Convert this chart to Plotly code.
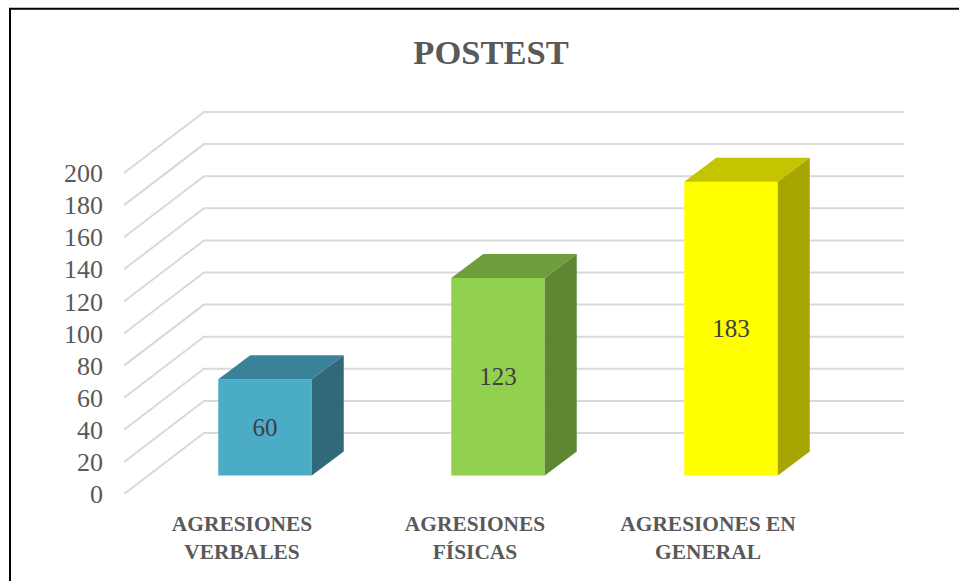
import plotly.graph_objects as go

# --- data ---
categories = ["AGRESIONES<br>VERBALES", "AGRESIONES<br>FÍSICAS", "AGRESIONES EN<br>GENERAL"]
values = [60, 123, 183]
y_ticks = [0, 20, 40, 60, 80, 100, 120, 140, 160, 180, 200]
front_colors = ["#4BACC6", "#92D050", "#FFFF00"]
top_colors = ["#3A8299", "#6F9E3C", "#C4C400"]
side_colors = ["#31697B", "#5F8733", "#A6A600"]
title_text = "POSTEST"

# --- oblique projection geometry (in axis units) ---
PX_X, PX_Y = 233.0, 1.605          # pixels per axis unit
L, R, T, B = 124, 904, 100, 494    # plot area in pixels
FLOOR_X, FLOOR_Y = 80 / PX_X, 61 / PX_Y   # full depth of the chart
BAR_X, BAR_Y = 32 / PX_X, 24 / PX_Y       # depth of one bar
START_X, START_Y = 23 / PX_X, 18.5 / PX_Y # gap between front plane and bar front
BAR_W = 93.5 / PX_X
FONT = "Liberation Serif"

xs = list(range(len(values)))
x_range = [(L - 242) / PX_X, (R - 242) / PX_X]
y_range = [0, (B - T) / PX_Y]

fig = go.Figure()

# front faces
fig.add_trace(go.Bar(
    x=[x + START_X for x in xs], y=values, base=START_Y, width=BAR_W,
    marker=dict(color=front_colors, line=dict(width=0)),
    text=[str(v) for v in values], textposition="inside", insidetextanchor="middle",
    textangle=0, insidetextfont=dict(family=FONT, size=25, color="#404040"),
    hoverinfo="skip", showlegend=False,
))

# top and side faces
for x, v, tc, sc in zip(xs, values, top_colors, side_colors):
    x0 = x + START_X - BAR_W / 2
    x1 = x + START_X + BAR_W / 2
    y0 = START_Y
    y1 = START_Y + v
    fig.add_trace(go.Scatter(
        x=[x0, x1, x1 + BAR_X, x0 + BAR_X, x0],
        y=[y1, y1, y1 + BAR_Y, y1 + BAR_Y, y1],
        mode="lines", line=dict(width=0), fill="toself", fillcolor=tc,
        hoverinfo="skip", showlegend=False,
    ))
    fig.add_trace(go.Scatter(
        x=[x1, x1 + BAR_X, x1 + BAR_X, x1, x1],
        y=[y0, y0 + BAR_Y, y1 + BAR_Y, y1, y0],
        mode="lines", line=dict(width=0), fill="toself", fillcolor=sc,
        hoverinfo="skip", showlegend=False,
    ))

# wall and floor grid lines, behind the bars
for t in y_ticks:
    x_a = x_range[0]
    fig.add_shape(
        type="path", layer="below", xref="x", yref="y",
        path=f"M {x_a} {t} L {x_a + FLOOR_X} {t + FLOOR_Y} L {x_range[1]} {t + FLOOR_Y}",
        line=dict(color="#D9D9D9", width=2), fillcolor="rgba(0,0,0,0)",
    )

# page border
W, H = 959, 581
px = lambda p: (p - L) / (R - L)
py = lambda p: (B - p) / (B - T)
fig.add_shape(type="line", xref="paper", yref="paper", x0=px(10), x1=px(10), y0=py(8), y1=py(581),
              line=dict(color="#000000", width=2))
fig.add_shape(type="line", xref="paper", yref="paper", x0=px(9), x1=px(959), y0=py(8.7), y1=py(8.7),
              line=dict(color="#000000", width=2))

fig.update_layout(
    width=W, height=H, autosize=False,
    margin=dict(l=L, r=W - R, t=T, b=H - B, pad=0),
    paper_bgcolor="#FFFFFF", plot_bgcolor="rgba(0,0,0,0)",
    showlegend=False,
    title=dict(text=f"<b>{title_text}</b>", x=491 / W, xanchor="center", xref="container",
               y=1 - 52 / H, yanchor="middle", yref="container",
               font=dict(family=FONT, size=34.5, color="#595959")),
    xaxis=dict(range=x_range, tickvals=xs, ticktext=categories, showgrid=False, zeroline=False,
               showline=False, ticks="", ticklabelstandoff=15, automargin=False,
               tickfont=dict(family=FONT, size=21.4, color="#595959", weight="bold")),
    yaxis=dict(range=y_range, tickvals=y_ticks, showgrid=False, zeroline=False,
               showline=False, ticks="", ticklabelstandoff=20, automargin=False,
               tickfont=dict(family=FONT, size=26, color="#595959")),
)

fig.write_html("out.html", config={"displayModeBar": False},
               post_script="document.body.style.margin='0';document.documentElement.style.overflow='hidden';")
